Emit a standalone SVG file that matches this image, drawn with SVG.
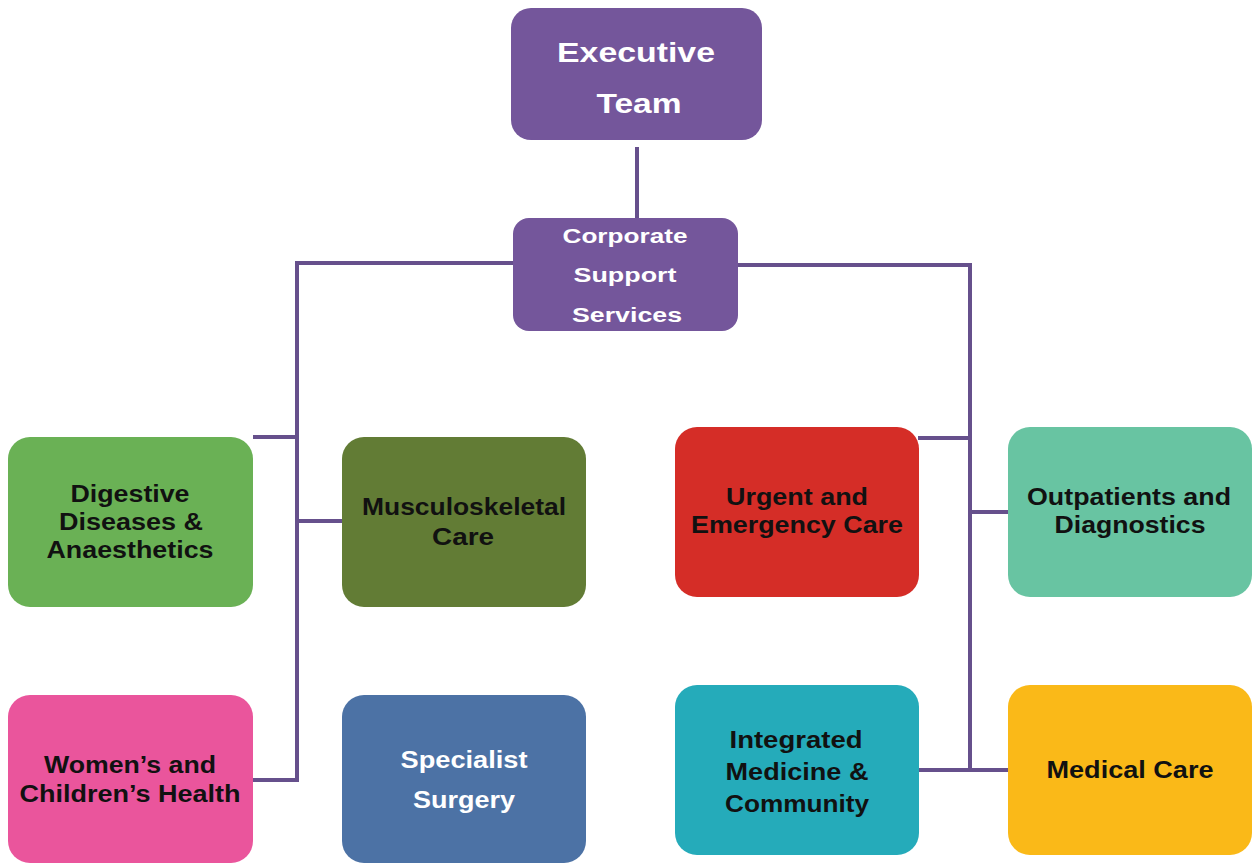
<svg xmlns="http://www.w3.org/2000/svg" width="1255" height="864" viewBox="0 0 1255 864">
<style>
.box{stroke:none}
.t{font-family:"Liberation Sans",Arial,sans-serif;font-weight:bold;font-size:23px;text-anchor:middle;fill:#111}
.w{fill:#fff}
.big{font-size:28px}
.mid{font-size:20px}
.conn{fill:none;stroke:#66508c;stroke-width:4}
</style>
<rect width="1255" height="864" fill="#fff"/>
<g id="connectors" class="conn">
<line x1="637" y1="147" x2="637" y2="219"/>
<polyline points="513,263 297,263 297,780 253,780"/>
<line x1="253" y1="437" x2="297" y2="437"/>
<line x1="297" y1="521" x2="342" y2="521"/>
<polyline points="738,265 970,265 970,770"/>
<line x1="918" y1="438" x2="970" y2="438"/>
<line x1="970" y1="512" x2="1008" y2="512"/>
<line x1="918" y1="770" x2="1008" y2="770"/>
</g>
<g id="executive">
<rect class="box" x="511" y="8" width="251" height="132" rx="20" fill="#74569b"/>
<text class="t w big" x="636" y="62" textLength="158" lengthAdjust="spacingAndGlyphs">Executive</text>
<text class="t w big" x="639" y="113" textLength="85" lengthAdjust="spacingAndGlyphs">Team</text>
</g>
<g id="corporate">
<rect class="box" x="513" y="218" width="225" height="113" rx="16" fill="#74569b"/>
<text class="t w mid" x="625" y="243" textLength="125" lengthAdjust="spacingAndGlyphs">Corporate</text>
<text class="t w mid" x="625" y="282" textLength="103" lengthAdjust="spacingAndGlyphs">Support</text>
<text class="t w mid" x="627" y="322" textLength="110" lengthAdjust="spacingAndGlyphs">Services</text>
</g>
<g id="digestive">
<rect class="box" x="8" y="437" width="245" height="170" rx="22" fill="#6ab155"/>
<text class="t" x="130" y="502" textLength="119" lengthAdjust="spacingAndGlyphs">Digestive</text>
<text class="t" x="131" y="530" textLength="144" lengthAdjust="spacingAndGlyphs">Diseases &amp;</text>
<text class="t" x="130" y="558" textLength="167" lengthAdjust="spacingAndGlyphs">Anaesthetics</text>
</g>
<g id="musculoskeletal">
<rect class="box" x="342" y="437" width="244" height="170" rx="22" fill="#627c35"/>
<text class="t" x="464" y="515" textLength="204" lengthAdjust="spacingAndGlyphs">Musculoskeletal</text>
<text class="t" x="463" y="545" textLength="62" lengthAdjust="spacingAndGlyphs">Care</text>
</g>
<g id="urgent">
<rect class="box" x="675" y="427" width="244" height="170" rx="22" fill="#d52d27"/>
<text class="t" x="797" y="505" textLength="142" lengthAdjust="spacingAndGlyphs">Urgent and</text>
<text class="t" x="797" y="533" textLength="212" lengthAdjust="spacingAndGlyphs">Emergency Care</text>
</g>
<g id="outpatients">
<rect class="box" x="1008" y="427" width="244" height="170" rx="22" fill="#68c4a2"/>
<text class="t" x="1129" y="505" textLength="204" lengthAdjust="spacingAndGlyphs">Outpatients and</text>
<text class="t" x="1130" y="533" textLength="151" lengthAdjust="spacingAndGlyphs">Diagnostics</text>
</g>
<g id="womens">
<rect class="box" x="8" y="695" width="245" height="168" rx="22" fill="#ea559c"/>
<text class="t" x="130" y="773" textLength="172" lengthAdjust="spacingAndGlyphs">Women’s and</text>
<text class="t" x="130" y="802" textLength="221" lengthAdjust="spacingAndGlyphs">Children’s Health</text>
</g>
<g id="specialist">
<rect class="box" x="342" y="695" width="244" height="168" rx="22" fill="#4c72a5"/>
<text class="t w" x="464" y="768" textLength="127" lengthAdjust="spacingAndGlyphs">Specialist</text>
<text class="t w" x="464" y="808" textLength="102" lengthAdjust="spacingAndGlyphs">Surgery</text>
</g>
<g id="integrated">
<rect class="box" x="675" y="685" width="244" height="170" rx="22" fill="#25abba"/>
<text class="t" x="796" y="748" textLength="133" lengthAdjust="spacingAndGlyphs">Integrated</text>
<text class="t" x="797" y="780" textLength="143" lengthAdjust="spacingAndGlyphs">Medicine &amp;</text>
<text class="t" x="797" y="812" textLength="144" lengthAdjust="spacingAndGlyphs">Community</text>
</g>
<g id="medical">
<rect class="box" x="1008" y="685" width="244" height="170" rx="22" fill="#fab918"/>
<text class="t" x="1130" y="778" textLength="167" lengthAdjust="spacingAndGlyphs">Medical Care</text>
</g>
</svg>
